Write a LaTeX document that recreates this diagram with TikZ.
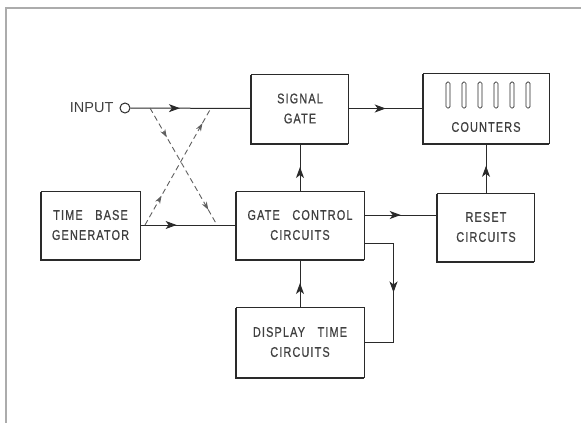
\documentclass[tikz,border=0pt]{standalone}
\usepackage{fontspec}
\newfontfamily\lettering[FakeStretch=0.78,LetterSpace=8,FakeBold=0.6]{Liberation Sans}
\newfontfamily\plainlettering{Liberation Sans}
\usetikzlibrary{arrows.meta, decorations.markings, shadows}
\definecolor{ink}{HTML}{2A2A2A}
\definecolor{lettergray}{HTML}{3F3F3F}
\newcommand{\gap}{\hspace{0.9em}}
\tikzset{
  blk/.style={draw=ink, line width=1pt, fill=white, inner sep=0pt, align=center,
    text=lettergray, font=\lettering\fontsize{14}{20}\selectfont,
    copy shadow={shadow xshift=-1pt, shadow yshift=-1pt, draw=ink, fill=ink}},
  flow/.style={draw=ink, line width=1pt, postaction={decorate},
    decoration={markings, mark=at position #1 with {\arrow{Stealth[length=11pt,width=8pt,inset=3pt]}}}},
  flow/.default=0.5,
  crossed/.style={draw=ink!75, line width=0.9pt, dash pattern=on 5.5pt off 3.5pt, postaction={decorate},
    decoration={markings,
      mark=at position 0.25 with {\arrow{Stealth[length=8pt,width=5.5pt,inset=2.5pt]}},
      mark=at position 0.87 with {\arrow{Stealth[length=8pt,width=5.5pt,inset=2.5pt]}}}}
}
\begin{document}
\begin{tikzpicture}[x=1pt, y=-1pt]
    \useasboundingbox (0,0) rectangle (581,423);

    % cadre
    \draw[gray!65, line width=1.3pt] (6,423) -- (6,8) -- (581,8);

    % les blocs
    \node[blk, minimum width=97pt, minimum height=69pt] (sig) at (300,108.5) {SIGNAL\\GATE};
    \node[blk, minimum width=126pt, minimum height=70pt] (cnt) at (486,108.5) {};
    \node[blk, minimum width=99pt, minimum height=68pt] (tbg) at (90.5,225) {TIME\gap BASE\\GENERATOR};
    \node[blk, minimum width=128pt, minimum height=68pt] (gcc) at (300,225) {GATE\gap CONTROL\\CIRCUITS};
    \node[blk, minimum width=97pt, minimum height=68pt] (rst) at (486,227) {RESET\\CIRCUITS};
    \node[blk, minimum width=128pt, minimum height=70pt] (dtc) at (300,342) {DISPLAY\gap TIME\\CIRCUITS};

    % les compteurs
    \foreach \bx in {448,464,480,496,512,528}
        \draw[ink, line width=0.7pt, rounded corners=1.5pt] (\bx-2,82) rectangle (\bx+2,108);
    \node[text=lettergray, font=\lettering\fontsize{14}{20}\selectfont] (cntlbl) at (486,127) {COUNTERS};

    % l'entree
    \node[draw=ink, line width=1pt, circle, minimum size=10pt, inner sep=0pt] (inp) at (125,108) {};
    \node[anchor=east, text=lettergray, font=\plainlettering\fontsize{14.5}{16}\selectfont] (inplbl) at (117,108) {INPUT};

    % liaisons
    \draw[flow=0.41] (inp.east) -- (sig.west);
    \draw[flow] (sig.east) -- (cnt.west);
    \draw[flow=0.38] (tbg.east) -- (gcc.west);
    \draw[flow] ([yshift=10pt]gcc.east) -- ([yshift=10pt]gcc.east -| rst.west);
    \draw[flow] (gcc.north) -- (sig.south);
    \draw[flow=0.55] (rst.north) -- (cnt.south);
    \draw[flow] (dtc.north) -- (gcc.south);
    \draw[flow=0.5] ([yshift=-18pt]gcc.east) -- ++(29,0) |- (dtc.east);

    % le croisement
    \coordinate (xa) at (150,108);
    \coordinate (xb) at (217,225);
    \coordinate (xc) at (145,225);
    \coordinate (xd) at (211,108);
    \draw[crossed] (xa) -- (xb);
    \draw[crossed] (xc) -- (xd);
\end{tikzpicture}
\end{document}
